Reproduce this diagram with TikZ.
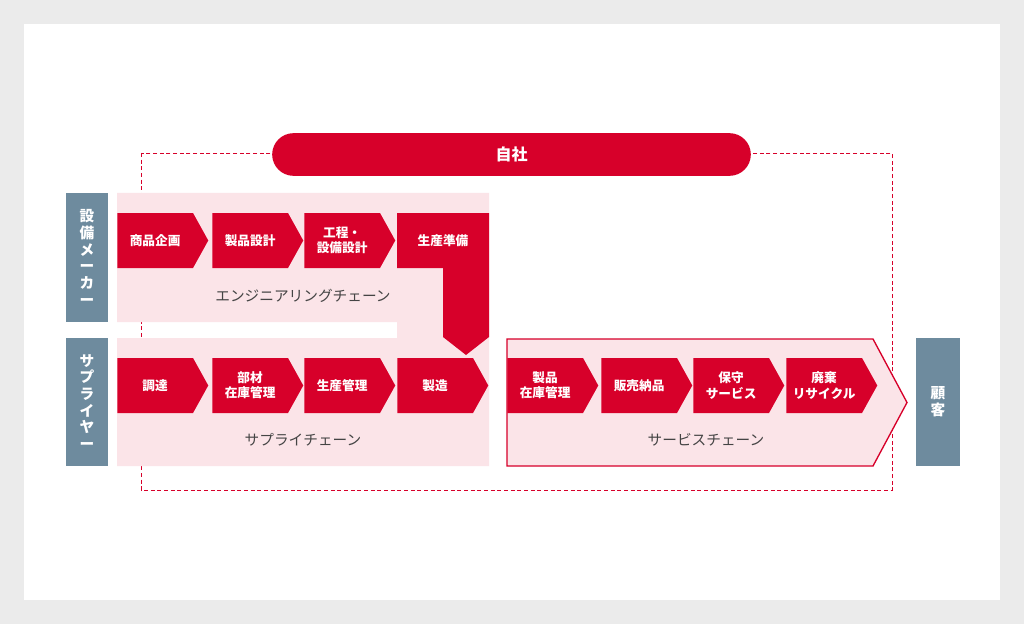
\documentclass[tikz,border=0pt]{standalone}
\usepackage{fontspec}
\setmainfont{Noto Sans CJK JP}
\usetikzlibrary{positioning, shapes.symbols}
\definecolor{brandred}{HTML}{D7002A}
\definecolor{palepink}{HTML}{FBE4E8}
\definecolor{slate}{HTML}{6E8B9E}
\definecolor{textgray}{HTML}{444444}
\tikzset{font=\fontsize{9.5}{11.5}\selectfont}
\tikzstyle{chain}  = [signal, signal to=east, signal pointer angle=122, fill=brandred, text=white,
  minimum width=68.25pt, minimum height=41.25pt, inner sep=0pt, align=center, font=\fontsize{9.5}{11.5}\selectfont\bfseries]
\tikzstyle{side}   = [fill=slate, text=white, align=center, font=\fontsize{11}{12.5}\selectfont\bfseries]
\tikzstyle{title}  = [text=textgray, font=\fontsize{11}{13}\selectfont]

\begin{document}
\begin{tikzpicture}[x=0.75pt, y=-0.75pt]
	\fill[black!8] (0,0) rectangle (1024,624);
	\fill[white] (24,24) rectangle (1000,600);
	\draw[brandred, densely dashed, line width=0.5pt] (141,153) rectangle (892,490);

	% own company
	\node [fill=brandred, rounded corners=16pt, minimum width=359pt, minimum height=32pt, text=white,
	  font=\fontsize{12}{14}\selectfont\bfseries] (self) at (511.5,154.5) {自社};

	% side labels
	\node [side, minimum width=31.5pt, minimum height=96.75pt] (maker) at (87,257.5) {設\\備\\メ\\ー\\カ\\ー};
	\node [side, minimum width=31.5pt, minimum height=96pt] (supplier) at (87,402) {サ\\プ\\ラ\\イ\\ヤ\\ー};
	\node [side, minimum width=33pt, minimum height=96pt] (customer) at (938,402) {顧\\客};

	% pink areas
	\fill[palepink] (117,193) -- (489,193) -- (489,466) -- (117,466) -- (117,338) -- (397,338)
	  -- (397,322) -- (117,322) -- cycle;
	\fill[palepink, draw=brandred, line width=1pt] (507,339) -- (873,339) -- (907,402.5) -- (873,466)
	  -- (507,466) -- cycle;

	% engineering chain
	\node [chain, anchor=west] (plan) at (117,240.5) {商品企画};
	\node [chain, anchor=west] (design) at (212,240.5) {製品設計};
	\node [chain, anchor=west] (process) at (304,240.5) {工程・\\設備設計};
	\fill[brandred] (397,213) -- (489,213) -- (489,337) -- (466,355) -- (443,337) -- (443,268)
	  -- (397,268) -- cycle;
	\node [text=white, font=\fontsize{9.5}{11.5}\selectfont\bfseries] (prep) at (443,240.5) {生産準備};
	\node [title] (eng) at (303,296) {エンジニアリングチェーン};

	% supply chain
	\node [chain, anchor=west] (procure) at (117,385.5) {調達};
	\node [chain, anchor=west] (parts) at (212,385.5) {部材\\在庫管理};
	\node [chain, anchor=west] (control) at (304,385.5) {生産管理};
	\node [chain, anchor=west] (make) at (397,385.5) {製造};
	\node [title] (supply) at (303,440) {サプライチェーン};

	% service chain
	\node [chain, anchor=west] (stock) at (507,385.5) {製品\\在庫管理};
	\node [chain, anchor=west] (sales) at (601,385.5) {販売納品};
	\node [chain, anchor=west] (maint) at (693,385.5) {保守\\サービス};
	\node [chain, anchor=west] (recycle) at (786,385.5) {廃棄\\リサイクル};
	\node [title] (service) at (706,440) {サービスチェーン};
\end{tikzpicture}
\end{document}
